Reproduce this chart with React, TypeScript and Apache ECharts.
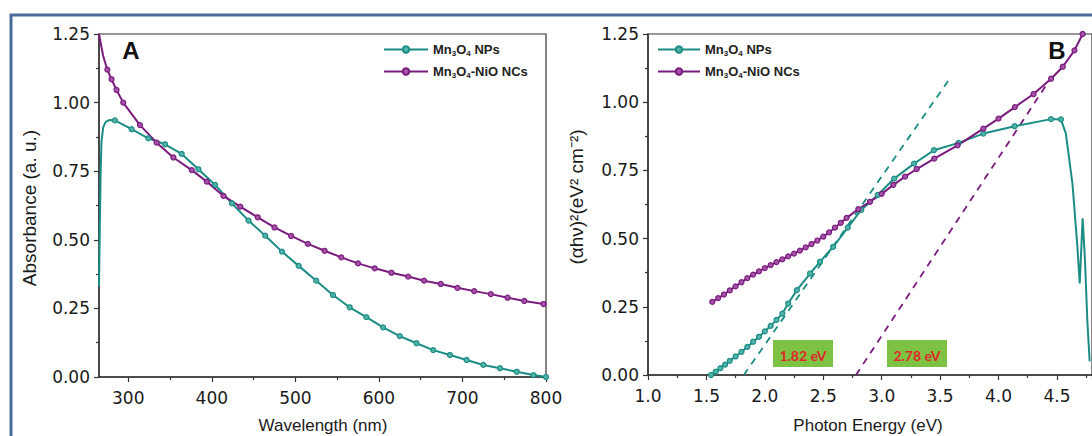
import React, { useEffect, useRef } from "react";
import * as echarts from "echarts";

// Panel A: absorbance vs wavelength
const wlNPs = [265, 266, 267, 268, 270, 273, 278, 284, 304, 324, 344, 364, 384, 404, 424, 444, 464, 484, 504, 525, 545, 565, 585, 605, 625, 645, 665, 685, 705, 725, 745, 765, 785, 800];
const absNPs = [0.33, 0.55, 0.75, 0.86, 0.91, 0.93, 0.937, 0.935, 0.903, 0.87, 0.848, 0.813, 0.757, 0.7, 0.633, 0.57, 0.515, 0.457, 0.405, 0.351, 0.299, 0.254, 0.218, 0.181, 0.149, 0.123, 0.098, 0.08, 0.062, 0.044, 0.032, 0.019, 0.007, 0.0];
const wlNCs = [265, 270, 275, 280, 286, 294, 314, 334, 354, 376, 394, 414, 434, 455, 475, 495, 515, 535, 555, 575, 595, 615, 635, 654, 674, 694, 714, 734, 754, 774, 797, 800];
const absNCs = [1.25, 1.17, 1.12, 1.085, 1.046, 1.0, 0.918, 0.854, 0.8, 0.754, 0.712, 0.66, 0.621, 0.582, 0.545, 0.514, 0.485, 0.46, 0.436, 0.414, 0.396, 0.38, 0.366, 0.351, 0.339, 0.325, 0.313, 0.302, 0.289, 0.277, 0.266, 0.265];

// Panel B: Tauc plot
const eNPs = [1.54, 1.58, 1.62, 1.66, 1.7, 1.75, 1.8, 1.85, 1.9, 1.95, 2.0, 2.05, 2.1, 2.15, 2.2, 2.274, 2.387, 2.472, 2.585, 2.71, 2.825, 2.966, 3.107, 3.277, 3.447, 3.658, 3.87, 4.138, 4.449, 4.534, 4.576, 4.633, 4.675, 4.695, 4.72, 4.74, 4.76, 4.78];
const tNPs = [0.0, 0.012, 0.025, 0.038, 0.052, 0.068, 0.085, 0.103, 0.122, 0.14, 0.16, 0.18, 0.202, 0.225, 0.262, 0.311, 0.372, 0.415, 0.47, 0.54, 0.605, 0.66, 0.72, 0.775, 0.824, 0.851, 0.885, 0.912, 0.938, 0.937, 0.886, 0.7, 0.47, 0.336, 0.574, 0.42, 0.2, 0.05];
const eNCs = [1.55, 1.6, 1.65, 1.7, 1.75, 1.8, 1.85, 1.9, 1.95, 2.0, 2.05, 2.1, 2.15, 2.2, 2.25, 2.3, 2.35, 2.4, 2.45, 2.5, 2.55, 2.6, 2.65, 2.7, 2.8, 2.9, 3.0, 3.1, 3.2, 3.3, 3.45, 3.65, 3.87, 4.0, 4.14, 4.3, 4.45, 4.55, 4.65, 4.72];
const tNCs = [0.268, 0.282, 0.295, 0.31, 0.325, 0.34, 0.355, 0.368, 0.38, 0.392, 0.403, 0.414, 0.424, 0.435, 0.445, 0.456, 0.468, 0.48, 0.493, 0.507, 0.523, 0.54, 0.558, 0.576, 0.608, 0.635, 0.664, 0.697, 0.727, 0.755, 0.793, 0.842, 0.903, 0.94, 0.982, 1.03, 1.086, 1.13, 1.19, 1.25];

// Tangent (extrapolation) lines
const fitNPs = [[1.82, 0], [3.58, 1.085]];
const fitNCs = [[2.78, 0], [4.45, 1.09]];
const gapLabels = ["1.82 eV", "2.78 eV"];

const xTicksA = [300, 400, 500, 600, 700, 800];
const xMinorA = [350, 450, 550, 650, 750];

const TEAL = "#1c8d84";
const TEAL_M = "#52b3aa";
const PURP = "#7a1b7e";
const PURP_M = "#a552a8";

const NAME1 = "Mn3O4 NPs";
const NAME2 = "Mn3O4-NiO NCs";

const zip = (xs: number[], ys: number[], noSym?: (x: number, i: number) => boolean) =>
  xs.map((x, i) => (noSym && noSym(x, i) ? { value: [x, ys[i]], symbol: "none" } : [x, ys[i]]));

export default function App() {
  const ref = useRef<HTMLDivElement>(null);
  useEffect(() => {
    if (!ref.current) return;
    const chart = echarts.init(ref.current, undefined, { renderer: "svg" });
    const tickFont = { fontFamily: "DejaVu Sans", fontSize: 17, color: "#1a1a1a" };
    const axisLine = { lineStyle: { color: "#333", width: 1.5 } };
    const rich = {
      s: { fontSize: 8, fontWeight: "bold", fontFamily: "Liberation Sans", color: "#222", padding: [7, 0, 0, 0] },
    };
    const legendFmt = (n: string) => (n === NAME1 ? "Mn{s|3}O{s|4} NPs" : "Mn{s|3}O{s|4}-NiO NCs");
    const lineSeries = (name: string, xi: number, yi: number, data: any, c: string, m: string) => ({
      type: "line",
      name,
      xAxisIndex: xi,
      yAxisIndex: yi,
      data,
      symbol: "circle",
      symbolSize: 5,
      showSymbol: true,
      lineStyle: { color: c, width: 2 },
      itemStyle: { color: m, borderColor: c, borderWidth: 1.2 },
      silent: true,
    });
    const option: any = {
      animation: false,
      backgroundColor: "#ffffff",
      grid: [
        { left: 99, top: 34, width: 447, height: 343, show: true, borderColor: "#333", borderWidth: 1.2, backgroundColor: "transparent" },
        { left: 648, top: 34, width: 448, height: 341, show: true, borderColor: "#333", borderWidth: 1.2, backgroundColor: "transparent" },
      ],
      xAxis: [
        {
          type: "value", gridIndex: 0, min: 265, max: 800,
          axisLine, splitLine: { show: false },
          axisTick: { customValues: xTicksA, length: 5, lineStyle: { color: "#333", width: 1.2 } },
          axisLabel: { customValues: xTicksA, margin: 12, ...tickFont },
        },
        {
          type: "value", gridIndex: 0, min: 265, max: 800, position: "bottom",
          axisLine: { show: false }, splitLine: { show: false },
          axisTick: { customValues: xMinorA, length: 3, lineStyle: { color: "#333", width: 1.2 } },
          axisLabel: { show: false },
        },
        {
          type: "value", gridIndex: 1, min: 1.0, max: 4.8, interval: 0.5,
          axisLine, splitLine: { show: false },
          axisTick: { length: 5, lineStyle: { color: "#333", width: 1.2 } },
          minorTick: { show: true, splitNumber: 2, length: 3, lineStyle: { color: "#333", width: 1.2 } },
          axisLabel: { margin: 12, showMaxLabel: false, formatter: (v: number) => v.toFixed(1), ...tickFont },
        },
      ],
      yAxis: [0, 1].map((g) => ({
        type: "value", gridIndex: g, min: 0, max: 1.25, interval: 0.25,
        axisLine, splitLine: { show: false },
        axisTick: { length: 5, lineStyle: { color: "#333", width: 1.2 } },
        minorTick: { show: true, splitNumber: 2, length: 3, lineStyle: { color: "#333", width: 1.2 } },
        axisLabel: { margin: 9, formatter: (v: number) => v.toFixed(2), ...tickFont },
      })),
      legend: [
        {
          left: 378, top: 38, orient: "vertical", itemGap: 8, itemWidth: 44, itemHeight: 8,
          data: [NAME1, NAME2], formatter: legendFmt, selectedMode: false,
          textStyle: { fontFamily: "Liberation Sans", fontWeight: "bold", fontSize: 13, color: "#222", rich },
        },
        {
          left: 652, top: 38, orient: "vertical", itemGap: 8, itemWidth: 42, itemHeight: 8,
          data: [NAME1, NAME2], formatter: legendFmt, selectedMode: false,
          textStyle: { fontFamily: "Liberation Sans", fontWeight: "bold", fontSize: 13, color: "#222", rich },
        },
      ],
      series: [
        lineSeries(NAME1, 0, 0, zip(wlNPs, absNPs, (x) => x < 280), TEAL, TEAL_M),
        lineSeries(NAME2, 0, 0, zip(wlNCs, absNCs, (x) => x < 274 || x === 800), PURP, PURP_M),
        {
          type: "line", name: "fitNPs", xAxisIndex: 2, yAxisIndex: 1, data: fitNPs, symbol: "none",
          lineStyle: { color: TEAL, width: 1.8, type: [7, 6] }, silent: true,
        },
        {
          type: "line", name: "fitNCs", xAxisIndex: 2, yAxisIndex: 1, data: fitNCs, symbol: "none",
          lineStyle: { color: PURP, width: 1.8, type: [7, 6] }, silent: true,
        },
        lineSeries(NAME1, 2, 1, zip(eNPs, tNPs, (x) => x > 4.55), TEAL, TEAL_M),
        lineSeries(NAME2, 2, 1, zip(eNCs, tNCs), PURP, PURP_M),
      ],
      graphic: [
        { type: "polyline", shape: { points: [[11, 436], [11, 15], [1092, 15]] }, style: { stroke: "#4a6c9b", lineWidth: 3, fill: "none" } },
        { type: "text", x: 131, y: 50, style: { text: "A", fontFamily: "Liberation Sans", fontWeight: "bold", fontSize: 24, fill: "#111", align: "center", verticalAlign: "middle" } },
        { type: "text", x: 1057, y: 50, style: { text: "B", fontFamily: "Liberation Sans", fontWeight: "bold", fontSize: 24, fill: "#111", align: "center", verticalAlign: "middle" } },
        { type: "text", x: 323, y: 425, style: { text: "Wavelength (nm)", fontFamily: "Liberation Sans", fontSize: 17, fill: "#1a1a1a", align: "center", verticalAlign: "middle" } },
        { type: "text", x: 868, y: 425, style: { text: "Photon Energy (eV)", fontFamily: "Liberation Sans", fontSize: 17, fill: "#1a1a1a", align: "center", verticalAlign: "middle" } },
        { type: "text", x: 29, y: 208, rotation: Math.PI / 2, style: { text: "Absorbance (a. u.)", fontFamily: "Liberation Sans", fontSize: 19, fill: "#1a1a1a", align: "center", verticalAlign: "middle" } },
        { type: "text", x: 576, y: 197, rotation: Math.PI / 2, style: { text: "(\u03b1h\u03bd)\u00b2(eV\u00b2 cm\u207b\u00b2)", fontFamily: "Liberation Sans", fontSize: 19, fill: "#1a1a1a", align: "center", verticalAlign: "middle" } },
        { type: "rect", shape: { x: 773, y: 340, width: 60, height: 27 }, style: { fill: "#7dc243" } },
        { type: "rect", shape: { x: 887, y: 340, width: 60, height: 27 }, style: { fill: "#7dc243" } },
        { type: "text", x: 803, y: 355, style: { text: gapLabels[0], fontFamily: "Lato", fontWeight: "bold", fontSize: 14, fill: "#e0262b", align: "center", verticalAlign: "middle" } },
        { type: "text", x: 917, y: 355, style: { text: gapLabels[1], fontFamily: "Lato", fontWeight: "bold", fontSize: 14, fill: "#e0262b", align: "center", verticalAlign: "middle" } },
      ],
    };
    chart.setOption(option);
    return () => chart.dispose();
  }, []);
  return <div ref={ref} style={{ position: "absolute", left: 0, top: 0, width: 1092, height: 436 }} />;
}
